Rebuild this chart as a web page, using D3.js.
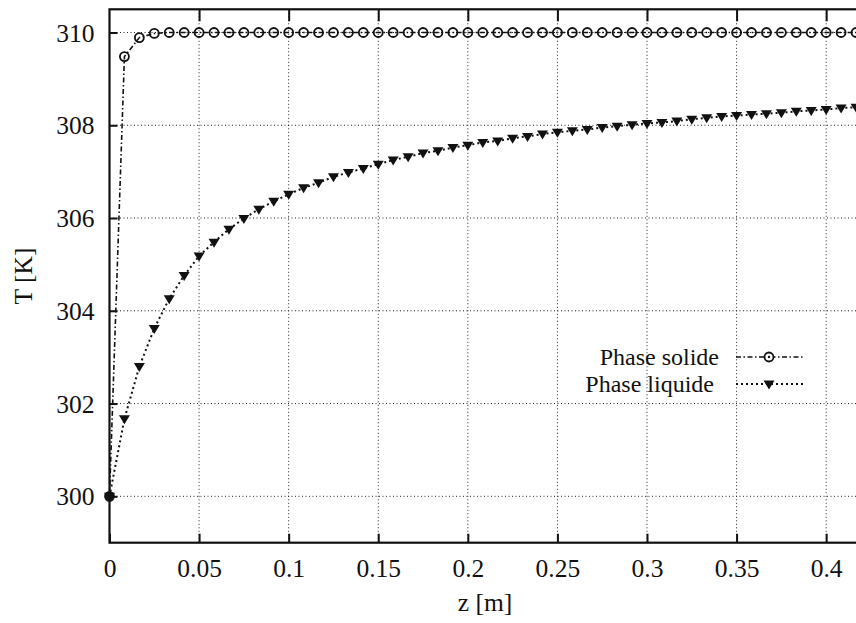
<!DOCTYPE html>
<html>
<head>
<meta charset="utf-8">
<script src="https://cdn.jsdelivr.net/npm/d3@7"></script>
<style>
  html, body { margin: 0; padding: 0; background: #fff; }
  svg { display: block; }
  text { font-family: "Liberation Serif", "DejaVu Serif", serif; fill: #111; }
</style>
</head>
<body>
<svg id="chart" width="856" height="623"></svg>
<script>
// ---- Data ----
const zValues = [0, 0.00833, 0.01667, 0.025, 0.03333, 0.04167, 0.05, 0.05833, 0.06667, 0.075,
  0.08333, 0.09167, 0.1, 0.10833, 0.11667, 0.125, 0.13333, 0.14167, 0.15, 0.15833,
  0.16667, 0.175, 0.18333, 0.19167, 0.2, 0.20833, 0.21667, 0.225, 0.23333, 0.24167,
  0.25, 0.25833, 0.26667, 0.275, 0.28333, 0.29167, 0.3, 0.30833, 0.31667, 0.325,
  0.33333, 0.34167, 0.35, 0.35833, 0.36667, 0.375, 0.38333, 0.39167, 0.4, 0.40833, 0.41667];

const solidT = [300, 309.48, 309.89, 309.98, 310, 310, 310, 310, 310, 310,
  310, 310, 310, 310, 310, 310, 310, 310, 310, 310,
  310, 310, 310, 310, 310, 310, 310, 310, 310, 310,
  310, 310, 310, 310, 310, 310, 310, 310, 310, 310,
  310, 310, 310, 310, 310, 310, 310, 310, 310, 310, 310];

const liquidT = [300, 301.67, 302.80, 303.62, 304.26, 304.76, 305.18, 305.48, 305.76, 305.99,
  306.19, 306.36, 306.51, 306.65, 306.76, 306.89, 306.98, 307.07, 307.16, 307.25,
  307.32, 307.40, 307.45, 307.52, 307.57, 307.63, 307.66, 307.72, 307.76, 307.81,
  307.85, 307.88, 307.91, 307.95, 307.98, 308.01, 308.04, 308.06, 308.09, 308.13,
  308.16, 308.19, 308.21, 308.23, 308.25, 308.27, 308.30, 308.32, 308.34, 308.37, 308.39];

const xTicks = [0, 0.05, 0.1, 0.15, 0.2, 0.25, 0.3, 0.35, 0.4];
const xTickLabels = ["0", "0.05", "0.1", "0.15", "0.2", "0.25", "0.3", "0.35", "0.4"];
const yTicks = [300, 302, 304, 306, 308, 310];
const yTickLabels = ["300", "302", "304", "306", "308", "310"];
const seriesNames = ["Phase solide", "Phase liquide"];
const xLabel = "z [m]";
const yLabel = "T [K]";

(function () {
// ---- Layout ----
const svg = d3.select("#chart");
const pL = 109.5, pR = 862, pT = 9.3, pB = 542.7;
const x = d3.scaleLinear().domain([0, 0.42]).range([pL, pR]);
const y = d3.scaleLinear().domain([299, 310.5]).range([pB, pT]);
const FS = 25.5;

// Grid
const grid = svg.append("g").attr("stroke", "#222").attr("stroke-width", 1)
  .attr("stroke-dasharray", "1,2.5");
grid.selectAll("line.gx").data(xTicks.slice(1)).enter().append("line")
  .attr("x1", d => x(d)).attr("x2", d => x(d)).attr("y1", pT).attr("y2", pB);
grid.selectAll("line.gy").data(yTicks).enter().append("line")
  .attr("y1", d => y(d)).attr("y2", d => y(d)).attr("x1", pL).attr("x2", pR);

// Axes (ticks inward)
const xAxisB = d3.axisBottom(x).tickValues(xTicks).tickSize(-9).tickFormat((d, i) => xTickLabels[i]);
const gxb = svg.append("g").attr("transform", `translate(0,${pB})`).call(xAxisB);
gxb.select(".domain").remove();
gxb.selectAll(".tick line").attr("stroke", "#111").attr("stroke-width", 2);
gxb.selectAll(".tick text").attr("font-size", FS).attr("fill", "#111")
  .attr("y", 34).attr("dy", "0");

const xAxisT = d3.axisTop(x).tickValues(xTicks.slice(1)).tickSize(-12).tickFormat("");
const gxt = svg.append("g").attr("transform", `translate(0,${pT})`).call(xAxisT);
gxt.select(".domain").remove();
gxt.selectAll(".tick line").attr("stroke", "#111").attr("stroke-width", 2);

const yAxisL = d3.axisLeft(y).tickValues(yTicks).tickSize(-8).tickFormat((d, i) => yTickLabels[i]);
const gyl = svg.append("g").attr("transform", `translate(${pL},0)`).call(yAxisL);
gyl.select(".domain").remove();
gyl.selectAll(".tick line").attr("stroke", "#111").attr("stroke-width", 2);
gyl.selectAll(".tick text").attr("font-size", FS).attr("fill", "#111")
  .attr("x", -15).attr("dy", "0.34em");

// Frame
svg.append("rect").attr("x", pL).attr("y", pT).attr("width", pR - pL).attr("height", pB - pT)
  .attr("fill", "none").attr("stroke", "#111").attr("stroke-width", 2.2);

// Axis titles
svg.append("text").attr("x", 485).attr("y", 611).attr("text-anchor", "middle")
  .attr("font-size", FS).text(xLabel);
svg.append("text").attr("transform", `translate(32,${(pT + pB) / 2}) rotate(-90)`)
  .attr("text-anchor", "middle").attr("font-size", FS).text(yLabel);

// Series
const solidData = zValues.map((z, i) => [z, solidT[i]]);
const liquidData = zValues.map((z, i) => [z, liquidT[i]]);
const line = d3.line().x(d => x(d[0])).y(d => y(d[1]));

const plot = svg.append("g");
plot.append("path").datum(solidData).attr("d", line).attr("fill", "none")
  .attr("stroke", "#111").attr("stroke-width", 1.6).attr("stroke-dasharray", "5,2.5,1.5,2.5");
plot.append("path").datum(liquidData).attr("d", line).attr("fill", "none")
  .attr("stroke", "#111").attr("stroke-width", 2).attr("stroke-dasharray", "2,3");

const triPath = "M-5.5,-3.5 L5.5,-3.5 L0,5.5 Z";

plot.selectAll("circle.s").data(solidData).enter().append("circle")
  .attr("cx", d => x(d[0])).attr("cy", d => y(d[1])).attr("r", 4.5)
  .attr("fill", "none").attr("stroke", "#111").attr("stroke-width", 1.8);
plot.selectAll("path.l").data(liquidData).enter().append("path")
  .attr("d", triPath).attr("transform", d => `translate(${x(d[0])},${y(d[1])})`)
  .attr("fill", "#111");
plot.append("circle").datum(solidData[0]).attr("cx", d => x(d[0])).attr("cy", d => y(d[1]))
  .attr("r", 4).attr("fill", "#111");

// Legend
const legX1 = 736, legX2 = 805, legMid = 769;
const legY = [357, 384];
const leg = svg.append("g");
leg.selectAll("text").data(seriesNames).enter().append("text")
  .attr("x", (d, i) => i === 0 ? 719 : 714).attr("y", (d, i) => legY[i]).attr("dy", "0.33em")
  .attr("text-anchor", "end").attr("font-size", 24).text(d => d);
leg.append("line").attr("x1", legX1).attr("x2", legX2).attr("y1", legY[0]).attr("y2", legY[0])
  .attr("stroke", "#111").attr("stroke-width", 1.6).attr("stroke-dasharray", "5,2.5,1.5,2.5");
leg.append("circle").attr("cx", legMid).attr("cy", legY[0]).attr("r", 4.5)
  .attr("fill", "#fff").attr("stroke", "#111").attr("stroke-width", 1.8);
leg.append("circle").attr("cx", legMid).attr("cy", legY[0]).attr("r", 1.2).attr("fill", "#111");
leg.append("line").attr("x1", legX1).attr("x2", legX2).attr("y1", legY[1]).attr("y2", legY[1])
  .attr("stroke", "#111").attr("stroke-width", 2).attr("stroke-dasharray", "2,3");
leg.append("path").attr("d", triPath).attr("transform", `translate(${legMid},${legY[1]})`).attr("fill", "#111");
})();
</script>
</body>
</html>
